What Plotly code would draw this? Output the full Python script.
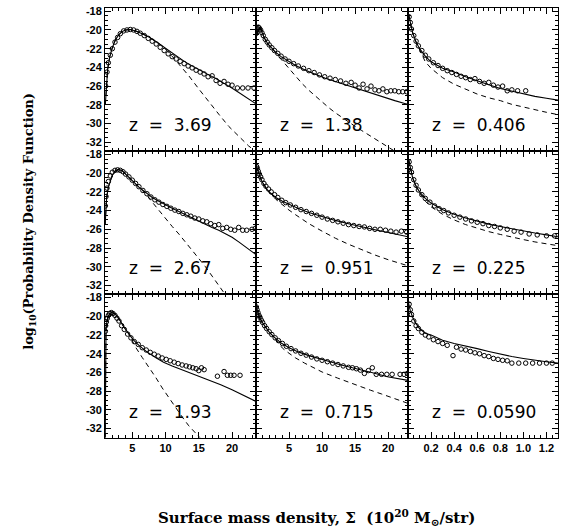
import plotly.graph_objects as go

# ---------------- data ----------------
z_labels = ["z = 3.69", "z = 1.38", "z = 0.406",
            "z = 2.67", "z = 0.951", "z = 0.225",
            "z = 1.93", "z = 0.715", "z = 0.0590"]

# Panel 1  z=3.69
p1_obs_x = [1.0,1.2,1.4,1.7,2.0,2.4,2.8,3.2,3.7,4.2,4.7,5.2,5.7,6.2,6.8,7.4,8.0,8.6,9.2,9.8,10.4,11.0,11.6,12.2,12.8,13.4,14.0,14.6,15.2,15.8,16.4,17.0,17.6,18.2,18.8,19.4,20.0,20.8,21.6,22.4,23.3]
p1_obs_y = [-26.0,-24.5,-23.5,-22.7,-22.0,-21.3,-20.8,-20.4,-20.1,-20.0,-19.95,-20.0,-20.15,-20.35,-20.6,-20.9,-21.2,-21.5,-21.85,-22.2,-22.55,-22.85,-23.1,-23.35,-23.6,-23.85,-24.05,-24.3,-24.5,-24.7,-25.0,-24.9,-25.4,-25.7,-25.5,-25.8,-25.9,-26.2,-26.2,-26.2,-26.2]
p1_fit_x = [0.95,1.1,1.3,1.6,2.0,2.5,3.0,3.5,4.0,4.7,5.5,6.5,7.5,8.5,9.5,10.5,11.5,12.5,13.5,14.5,15.5,16.5,17.5,18.5,19.5,20.5,21.5,22.5,23.6]
p1_fit_y = [-28.0,-25.8,-24.2,-22.9,-21.9,-21.0,-20.5,-20.15,-20.0,-19.95,-20.1,-20.4,-20.75,-21.2,-21.7,-22.25,-22.75,-23.2,-23.65,-24.05,-24.45,-24.8,-25.15,-25.55,-26.0,-26.45,-26.9,-27.35,-27.9]
p1_ln_x = [0.95,1.1,1.3,1.6,2.0,2.5,3.0,3.5,4.0,4.7,5.5,6.5,7.5,8.5,9.5,10.5,12.0,13.5,15.0,16.5,18.0,19.5,21.0,22.5,23.6]
p1_ln_y = [-28.0,-25.8,-24.2,-22.9,-21.9,-21.0,-20.5,-20.15,-20.0,-19.95,-20.1,-20.4,-20.75,-21.2,-21.7,-22.4,-23.6,-24.9,-26.3,-27.7,-29.0,-30.3,-31.4,-32.4,-33.0]

# Panel 2  z=1.38
p2_obs_x = [0.1,0.2,0.35,0.5,0.7,0.9,1.1,1.4,1.7,2.0,2.4,2.8,3.3,3.8,4.4,5.0,5.7,6.4,7.2,8.0,8.8,9.6,10.4,11.2,12.0,12.8,13.6,14.4,15.0,15.6,16.2,16.8,17.4,18.0,18.6,19.2,19.8,20.4,21.0,21.6,22.2,22.8]
p2_obs_y = [-20.3,-19.9,-19.7,-19.8,-20.0,-20.3,-20.6,-21.0,-21.3,-21.6,-21.9,-22.2,-22.5,-22.8,-23.1,-23.35,-23.6,-23.85,-24.1,-24.35,-24.55,-24.8,-25.0,-25.15,-25.3,-25.45,-25.7,-25.6,-25.9,-26.2,-25.8,-26.3,-26.0,-26.4,-26.5,-26.3,-26.6,-26.5,-26.5,-26.6,-26.6,-26.6]
p2_fit_x = [0.15,0.3,0.6,0.9,1.3,1.8,2.4,3.0,3.8,4.8,6.0,7.5,9.0,10.5,12.0,13.5,15.0,16.5,18.0,19.5,21.0,22.5,23.0]
p2_fit_y = [-20.6,-20.0,-19.7,-20.2,-20.9,-21.5,-22.0,-22.4,-22.85,-23.3,-23.8,-24.3,-24.75,-25.15,-25.5,-25.85,-26.2,-26.55,-26.9,-27.2,-27.55,-27.85,-27.95]
p2_ln_x = [0.15,0.3,0.6,0.9,1.3,1.8,2.4,3.3,4.0,5.0,6.0,7.0,8.0,9.0,10.0,11.0,12.0,13.0,14.0,15.0,16.0,17.0,18.0,19.0,20.0,21.0,22.0]
p2_ln_y = [-20.6,-20.0,-19.7,-20.2,-20.9,-21.5,-22.0,-22.7,-23.3,-24.2,-25.0,-25.75,-26.45,-27.1,-27.7,-28.3,-28.85,-29.35,-29.85,-30.3,-30.75,-31.2,-31.6,-32.1,-32.55,-33.0,-33.4]

# Panel 3  z=0.406
p3_obs_x = [0.01,0.02,0.03,0.05,0.07,0.09,0.12,0.15,0.18,0.22,0.26,0.3,0.34,0.38,0.42,0.46,0.5,0.54,0.58,0.62,0.66,0.7,0.74,0.78,0.82,0.86,0.9,0.95,1.02]
p3_obs_y = [-18.6,-19.2,-19.9,-20.6,-21.2,-21.7,-22.2,-22.7,-23.1,-23.5,-23.8,-24.1,-24.35,-24.55,-24.75,-24.95,-25.1,-25.3,-25.2,-25.5,-25.7,-25.6,-25.9,-26.1,-26.0,-26.5,-26.4,-26.5,-26.5]
p3_fit_x = [0.005,0.02,0.04,0.07,0.1,0.15,0.2,0.3,0.4,0.5,0.6,0.7,0.8,0.9,1.0,1.1,1.2,1.3]
p3_fit_y = [-18.3,-19.3,-20.3,-21.3,-22.0,-22.8,-23.4,-24.1,-24.5,-25.0,-25.45,-25.85,-26.25,-26.55,-26.85,-27.1,-27.3,-27.5]
p3_ln_x = [0.005,0.02,0.04,0.07,0.1,0.15,0.2,0.3,0.4,0.5,0.6,0.7,0.8,0.9,1.0,1.1,1.2,1.3]
p3_ln_y = [-18.3,-19.3,-20.3,-21.3,-22.1,-23.4,-24.1,-25.1,-25.8,-26.3,-26.85,-27.25,-27.55,-27.95,-28.25,-28.55,-28.8,-29.05]

# Panel 4  z=2.67
p4_obs_x = [0.95,1.05,1.2,1.4,1.7,2.0,2.4,2.8,3.2,3.6,4.0,4.5,5.0,5.5,6.0,6.6,7.2,7.8,8.4,9.0,9.6,10.2,10.8,11.4,12.0,12.6,13.2,13.8,14.4,15.0,15.6,16.2,16.8,17.4,18.0,18.6,19.2,19.8,20.4,21.0,21.6,22.2,23.0,23.5]
p4_obs_y = [-23.5,-22.5,-21.6,-20.9,-20.3,-19.9,-19.7,-19.65,-19.7,-19.85,-20.1,-20.4,-20.75,-21.1,-21.45,-21.85,-22.2,-22.55,-22.85,-23.1,-23.35,-23.55,-23.75,-23.95,-24.1,-24.3,-24.45,-24.6,-24.8,-24.9,-25.1,-25.2,-25.4,-25.6,-25.5,-25.9,-25.8,-26.0,-26.1,-25.8,-26.1,-26.1,-26.0,-25.9]
p4_fit_x = [0.92,1.0,1.15,1.4,1.7,2.0,2.4,2.9,3.5,4.2,5.0,6.0,7.0,8.0,9.0,10.0,11.0,12.0,13.0,14.0,15.0,16.0,17.0,18.0,19.0,20.0,21.0,22.0,23.6]
p4_fit_y = [-25.5,-24.0,-22.6,-21.5,-20.7,-20.2,-19.8,-19.6,-19.75,-20.2,-20.8,-21.5,-22.1,-22.6,-23.0,-23.4,-23.75,-24.1,-24.45,-24.8,-25.1,-25.45,-25.8,-26.1,-26.45,-26.85,-27.35,-27.9,-28.7]
p4_ln_x = [0.92,1.0,1.15,1.4,1.7,2.0,2.4,2.9,3.5,4.2,5.0,6.0,7.0,8.0,9.0,10.0,11.0,12.0,13.0,14.0,15.0,16.0,17.0,18.0,19.0,19.5]
p4_ln_y = [-25.5,-24.0,-22.6,-21.5,-20.7,-20.2,-19.8,-19.6,-19.75,-20.2,-20.8,-21.5,-22.2,-23.1,-24.0,-24.9,-25.7,-26.5,-27.35,-28.2,-29.1,-30.0,-31.0,-32.0,-33.0,-33.5]

# Panel 5  z=0.951
p5_obs_x = [0.1,0.2,0.35,0.5,0.7,0.9,1.2,1.5,1.9,2.3,2.8,3.3,3.9,4.5,5.2,6.0,6.8,7.6,8.4,9.2,10.0,10.8,11.6,12.4,13.2,14.0,14.8,15.6,16.4,17.2,18.0,18.8,19.6,20.4,21.2,22.0,22.8]
p5_obs_y = [-19.3,-19.5,-19.8,-20.1,-20.4,-20.7,-21.1,-21.4,-21.7,-22.0,-22.3,-22.6,-22.9,-23.15,-23.4,-23.65,-23.9,-24.1,-24.3,-24.5,-24.7,-24.9,-25.05,-25.2,-25.35,-25.5,-25.6,-25.7,-25.75,-25.9,-26.0,-26.0,-26.1,-26.2,-26.3,-26.2,-26.3]
p5_fit_x = [0.1,0.3,0.6,1.0,1.5,2.0,3.0,4.0,5.0,6.5,8.0,10.0,12.0,14.0,16.0,18.0,20.0,22.0,23.0]
p5_fit_y = [-19.3,-19.8,-20.4,-21.0,-21.6,-22.0,-22.6,-23.0,-23.35,-23.8,-24.2,-24.65,-25.05,-25.4,-25.75,-26.05,-26.35,-26.65,-26.8]
p5_ln_x = [0.1,0.3,0.6,1.0,1.5,2.0,3.0,4.0,5.0,6.0,7.0,8.0,10.0,12.0,14.0,16.0,18.0,20.0,22.0,23.0]
p5_ln_y = [-19.3,-19.8,-20.4,-21.0,-21.6,-22.05,-22.8,-23.4,-23.95,-24.45,-24.95,-25.4,-26.2,-26.95,-27.6,-28.2,-28.75,-29.25,-29.7,-29.9]

# Panel 6  z=0.225
p6_obs_x = [0.01,0.02,0.03,0.05,0.07,0.09,0.12,0.15,0.19,0.23,0.27,0.31,0.35,0.4,0.45,0.5,0.55,0.6,0.65,0.7,0.75,0.8,0.86,0.92,0.98,1.05,1.12,1.2,1.27]
p6_obs_y = [-18.8,-19.4,-19.9,-20.7,-21.3,-21.8,-22.3,-22.7,-23.1,-23.5,-23.8,-24.0,-24.25,-24.5,-24.7,-24.9,-25.1,-25.25,-25.4,-25.6,-25.7,-25.85,-26.0,-26.2,-26.3,-26.5,-26.6,-26.7,-26.7]
p6_fit_x = [0.005,0.02,0.04,0.07,0.1,0.15,0.2,0.3,0.4,0.5,0.6,0.7,0.8,0.9,1.0,1.1,1.2,1.3]
p6_fit_y = [-18.5,-19.5,-20.5,-21.4,-22.0,-22.7,-23.2,-23.9,-24.4,-24.8,-25.15,-25.45,-25.7,-25.95,-26.2,-26.4,-26.6,-26.8]
p6_ln_x = [0.005,0.02,0.04,0.07,0.1,0.15,0.2,0.3,0.4,0.5,0.6,0.7,0.8,0.9,1.0,1.1,1.2,1.3]
p6_ln_y = [-18.5,-19.5,-20.5,-21.4,-22.1,-23.0,-23.6,-24.4,-25.0,-25.5,-25.9,-26.25,-26.55,-26.85,-27.1,-27.35,-27.55,-27.75]

# Panel 7  z=1.93
p7_obs_x = [0.95,1.0,1.1,1.25,1.4,1.6,1.85,2.1,2.4,2.7,3.0,3.4,3.8,4.3,4.8,5.3,5.9,6.5,7.1,7.7,8.3,8.9,9.5,10.1,10.7,11.3,11.9,12.5,13.1,13.6,14.1,14.6,15.0,15.4,15.8,17.8,18.8,19.3,19.8,20.3,21.2]
p7_obs_y = [-21.6,-21.0,-20.6,-20.2,-19.9,-19.7,-19.6,-19.7,-19.9,-20.2,-20.5,-21.0,-21.4,-21.9,-22.3,-22.7,-23.0,-23.35,-23.6,-23.85,-24.05,-24.25,-24.45,-24.6,-24.75,-24.9,-25.05,-25.2,-25.3,-25.4,-25.5,-25.6,-25.8,-25.5,-25.7,-26.4,-25.9,-26.3,-26.3,-26.3,-26.3]
p7_fit_x = [0.92,0.95,1.05,1.2,1.4,1.65,1.9,2.2,2.7,3.2,3.7,4.5,5.2,6.0,7.2,8.5,9.7,11.0,12.3,13.8,15.3,16.8,18.3,20.0,21.5,23.6]
p7_fit_y = [-34.0,-24.5,-21.3,-20.5,-20.0,-19.7,-19.6,-19.65,-19.95,-20.5,-21.1,-21.9,-22.55,-23.1,-23.8,-24.4,-24.9,-25.3,-25.65,-26.1,-26.5,-26.9,-27.3,-27.85,-28.35,-29.1]
p7_ln_x = [0.92,0.95,1.05,1.2,1.4,1.65,1.9,2.2,2.7,3.2,3.7,4.5,5.5,6.5,7.5,8.5,9.5,10.5,11.5,12.5,13.5,14.5,15.5,16.0]
p7_ln_y = [-34.0,-24.5,-21.3,-20.5,-20.0,-19.7,-19.6,-19.65,-19.95,-20.5,-21.1,-21.9,-23.3,-24.4,-25.4,-26.5,-27.65,-28.7,-29.7,-30.75,-31.7,-32.4,-33.2,-33.6]

# Panel 8  z=0.715
p8_obs_x = [0.05,0.15,0.3,0.45,0.6,0.8,1.0,1.3,1.6,2.0,2.4,2.9,3.4,4.0,4.6,5.3,6.0,6.8,7.6,8.4,9.2,10.0,10.8,11.6,12.4,13.2,14.0,14.6,15.2,15.8,16.4,17.0,17.6,18.2,19.0,19.8,20.6,21.8,22.4,22.9]
p8_obs_y = [-19.0,-19.3,-19.6,-19.9,-20.1,-20.4,-20.65,-21.0,-21.3,-21.65,-21.95,-22.3,-22.6,-22.9,-23.2,-23.45,-23.7,-23.95,-24.15,-24.35,-24.55,-24.7,-24.85,-25.0,-25.15,-25.3,-25.45,-25.5,-25.6,-25.75,-26.1,-25.8,-25.5,-26.2,-26.2,-26.2,-26.2,-26.2,-26.2,-26.1]
p8_fit_x = [0.1,0.3,0.6,0.9,1.3,1.9,2.7,3.8,5.0,6.4,8.0,9.9,11.5,12.9,14.5,15.9,17.5,19.9,21.5,23.0]
p8_fit_y = [-19.2,-19.7,-20.2,-20.6,-21.05,-21.6,-22.2,-22.85,-23.35,-23.8,-24.2,-24.55,-24.9,-25.2,-25.45,-25.7,-26.0,-26.45,-26.65,-26.85]
p8_ln_x = [0.1,0.3,0.6,0.9,1.3,1.9,2.7,3.3,4.0,5.0,6.0,7.35,8.5,10.0,12.35,14.0,15.5,17.35,19.0,21.0,23.0]
p8_ln_y = [-19.2,-19.7,-20.2,-20.6,-21.05,-21.6,-22.2,-22.8,-23.4,-23.95,-24.45,-25.0,-25.45,-25.95,-26.6,-27.05,-27.45,-27.9,-28.3,-28.8,-29.3]

# Panel 9  z=0.0590
p9_obs_x = [0.01,0.02,0.03,0.05,0.07,0.09,0.12,0.15,0.18,0.22,0.26,0.3,0.34,0.39,0.42,0.46,0.5,0.54,0.58,0.62,0.66,0.7,0.74,0.78,0.82,0.86,0.9,0.96,1.02,1.08,1.14,1.2,1.25]
p9_obs_y = [-18.7,-19.3,-19.8,-20.5,-21.0,-21.3,-21.7,-22.0,-22.2,-22.5,-22.7,-22.9,-23.1,-24.2,-23.3,-23.5,-23.6,-23.75,-23.9,-24.0,-24.2,-24.3,-24.5,-24.6,-24.7,-24.75,-25.0,-25.0,-25.0,-25.0,-25.0,-25.0,-25.0]
p9_fit_x = [0.005,0.02,0.04,0.07,0.1,0.15,0.2,0.3,0.4,0.5,0.6,0.7,0.8,0.9,1.0,1.1,1.2,1.3]
p9_fit_y = [-18.6,-19.4,-20.1,-20.8,-21.3,-21.8,-22.0,-22.55,-22.9,-23.15,-23.45,-23.75,-24.05,-24.3,-24.5,-24.7,-24.85,-25.0]

obs_x = [p1_obs_x, p2_obs_x, p3_obs_x, p4_obs_x, p5_obs_x, p6_obs_x, p7_obs_x, p8_obs_x, p9_obs_x]
obs_y = [p1_obs_y, p2_obs_y, p3_obs_y, p4_obs_y, p5_obs_y, p6_obs_y, p7_obs_y, p8_obs_y, p9_obs_y]
fit_x = [p1_fit_x, p2_fit_x, p3_fit_x, p4_fit_x, p5_fit_x, p6_fit_x, p7_fit_x, p8_fit_x, p9_fit_x]
fit_y = [p1_fit_y, p2_fit_y, p3_fit_y, p4_fit_y, p5_fit_y, p6_fit_y, p7_fit_y, p8_fit_y, p9_fit_y]
ln_x = [p1_ln_x, p2_ln_x, p3_ln_x, p4_ln_x, p5_ln_x, p6_ln_x, p7_ln_x, p8_ln_x, None]
ln_y = [p1_ln_y, p2_ln_y, p3_ln_y, p4_ln_y, p5_ln_y, p6_ln_y, p7_ln_y, p8_ln_y, None]

y_ticks = [-18, -20, -22, -24, -26, -28, -30, -32]
x_ticks_wide = [5, 10, 15, 20]
x_ticks_narrow = [0.2, 0.4, 0.6, 0.8, 1.0, 1.2]
x_ranges = [[0.9, 23.6], [0.0, 23.0], [0.0, 1.3]]
y_range = [-32.95, -17.65]

# ---------------- layout geometry ----------------
W, H = 566, 527
col_px = [(105, 256), (256, 408), (408, 558)]
row_px = [(5, 149), (149, 293), (293, 437)]

fig = go.Figure()
tick_font = dict(family="Liberation Sans, Arial, sans-serif", size=11, color="black", weight="bold")

for i in range(9):
    r, c = divmod(i, 3)
    n = i + 1
    xa = "x" if n == 1 else f"x{n}"
    ya = "y" if n == 1 else f"y{n}"
    if ln_x[i] is not None:
        fig.add_trace(go.Scatter(x=ln_x[i], y=ln_y[i], mode="lines", xaxis=xa, yaxis=ya,
                                 line=dict(color="black", width=1, dash="5px,4px"),
                                 showlegend=False, hoverinfo="skip"))
    fig.add_trace(go.Scatter(x=fit_x[i], y=fit_y[i], mode="lines", xaxis=xa, yaxis=ya,
                             line=dict(color="black", width=1.1),
                             showlegend=False, hoverinfo="skip"))
    fig.add_trace(go.Scatter(x=obs_x[i], y=obs_y[i], mode="markers", xaxis=xa, yaxis=ya,
                             marker=dict(symbol="circle-open", size=4.5, color="black",
                                         line=dict(width=1, color="black")),
                             cliponaxis=True, showlegend=False, hoverinfo="skip"))

    x0, x1 = col_px[c]
    y0, y1 = row_px[r]
    xkey = "xaxis" if n == 1 else f"xaxis{n}"
    ykey = "yaxis" if n == 1 else f"yaxis{n}"
    if c < 2:
        xt = x_ticks_wide
        xtt = [str(v) for v in xt]
        mdt = 1
    else:
        xt = x_ticks_narrow
        xtt = [f"{v:.1f}" for v in xt]
        mdt = 0.05
    fig.layout[xkey] = dict(
        domain=[x0 / W, x1 / W], anchor=ya, range=x_ranges[c],
        showline=True, linecolor="black", linewidth=1, mirror="allticks",
        ticks="inside", ticklen=6, tickwidth=1, tickcolor="black",
        tickvals=xt, ticktext=xtt, showticklabels=(r == 2),
        tickfont=tick_font, showgrid=False, zeroline=False,
        minor=dict(ticks="inside", ticklen=3, dtick=mdt, tickcolor="black", showgrid=False),
    )
    fig.layout[ykey] = dict(
        domain=[1 - y1 / H, 1 - y0 / H], anchor=xa, range=y_range,
        showline=True, linecolor="black", linewidth=1, mirror="allticks",
        ticks="inside", ticklen=6, tickwidth=1, tickcolor="black",
        tickvals=y_ticks, ticktext=[str(v) for v in y_ticks], showticklabels=(c == 0),
        tickfont=tick_font, showgrid=False, zeroline=False,
        minor=dict(ticks="inside", ticklen=3, dtick=0.5, tickcolor="black", showgrid=False),
    )
    fig.add_annotation(
        x=(x0 + 22) / W, y=1 - (y1 - 26) / H, xref="paper", yref="paper",
        text=z_labels[i].replace(" ", "\u00a0\u00a0"), showarrow=False,
        xanchor="left", yanchor="middle",
        font=dict(family="DejaVu Sans, sans-serif", size=17, color="black"),
    )

fig.add_annotation(
    x=30 / W, y=1 - 220 / H, xref="paper", yref="paper", textangle=-90,
    text="log<sub>10</sub>(Probability Density Function)", showarrow=False,
    xanchor="center", yanchor="middle",
    font=dict(family="DejaVu Serif, serif", size=13, color="black", weight="bold"),
)
fig.add_annotation(
    x=316 / W, y=1 - 517 / H, xref="paper", yref="paper",
    text="Surface mass density, \u03a3\u00a0\u00a0(10<sup>20</sup> M<sub>\u2299</sub>/str)", showarrow=False,
    xanchor="center", yanchor="middle",
    font=dict(family="DejaVu Serif, serif", size=15, color="black", weight="bold"),
)

fig.update_layout(
    width=W, height=H, margin=dict(l=0, r=0, t=0, b=0),
    paper_bgcolor="white", plot_bgcolor="white",
)
fig.write_html("out.html")
